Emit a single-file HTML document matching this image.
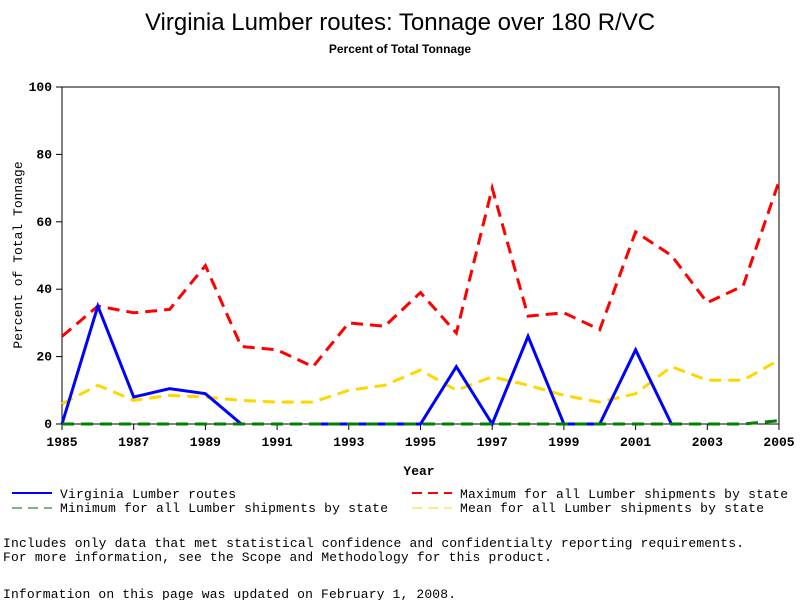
<!DOCTYPE html>
<html><head><meta charset="utf-8"><style>
body{margin:0;background:#fff;width:800px;height:600px;overflow:hidden;font-family:"Liberation Mono",monospace}
svg text{font-family:"Liberation Mono",monospace}
</style></head><body>
<svg id="c" width="800" height="600">
<text x="400" y="30" text-anchor="middle" font-size="24" style="font-family:'Liberation Sans',sans-serif">Virginia Lumber routes: Tonnage over 180 R/VC</text>
<text x="400" y="53" text-anchor="middle" font-size="12" font-weight="bold" style="font-family:'Liberation Sans',sans-serif">Percent of Total Tonnage</text>
<rect x="62" y="87" width="717" height="337" fill="none" stroke="#000"/>
<g id="ticks"></g>
<g id="series"></g>
<text x="419" y="475" text-anchor="middle" font-size="13" font-weight="bold">Year</text>
<text transform="translate(22,255) rotate(-90)" text-anchor="middle" font-size="13">Percent of Total Tonnage</text>
<g font-size="13">
<line x1="12" y1="493" x2="52" y2="493" stroke="#0000ff" stroke-width="2"/><text x="60" y="498" textLength="176">Virginia Lumber routes</text>
<line x1="12" y1="508" x2="52" y2="508" stroke="#006400" stroke-width="1" stroke-dasharray="10,6"/><text x="60" y="512" textLength="328">Minimum for all Lumber shipments by state</text>
<line x1="412" y1="493" x2="452" y2="493" stroke="#ff0000" stroke-width="2" stroke-dasharray="10,6"/><text x="460" y="498" textLength="328">Maximum for all Lumber shipments by state</text>
<line x1="412" y1="508" x2="452" y2="508" stroke="#ffd700" stroke-width="1" stroke-dasharray="10,6"/><text x="460" y="512" textLength="304">Mean for all Lumber shipments by state</text>
</g>
<text x="3" y="547" font-size="13" textLength="741">Includes only data that met statistical confidence and confidentialty reporting requirements.</text>
<text x="3" y="561" font-size="13" textLength="549">For more information, see the Scope and Methodology for this product.</text>
<text x="3" y="598" font-size="13" textLength="453">Information on this page was updated on February 1, 2008.</text>
</svg>
<script>
const years=[1985,1986,1987,1988,1989,1990,1991,1992,1993,1994,1995,1996,1997,1998,1999,2000,2001,2002,2003,2004,2005];
const virginia=[0,35,8,10.5,9,0,null,0,0,0,0,17,0,26,0,0,22,0,null,null,null];
const maxVals=[26,35,33,34,47,23,22,17,30,29,39,27,70,32,33,28,57,50,36,41,72];
const meanVals=[6,11.5,7,8.5,8,7,6.5,6.5,10,11.5,16,10,14,11.5,8.5,6.5,9,17,13,13,19];
const minVals=[0,0,0,0,0,0,0,0,0,0,0,0,0,0,0,0,0,0,0,0,1];
const xTicks=[1985,1987,1989,1991,1993,1995,1997,1999,2001,2003,2005];
const yTicks=[0,20,40,60,80,100];
const NS="http://www.w3.org/2000/svg";
const X=v=>62+(v-1985)*717/20, Y=v=>424-v*3.37;
const tg=document.getElementById('ticks');
function mk(t,a,p){const e=document.createElementNS(NS,t);for(const k in a)e.setAttribute(k,a[k]);p.appendChild(e);return e;}
xTicks.forEach(t=>{mk('line',{x1:X(t),x2:X(t),y1:424,y2:430,stroke:'#000'},tg);
const e=mk('text',{x:X(t),y:446,'text-anchor':'middle','font-size':13,'font-weight':'bold'},tg);e.textContent=t;

});
yTicks.forEach(t=>{mk('line',{x1:56,x2:62,y1:Y(t),y2:Y(t),stroke:'#000'},tg);
const e=mk('text',{x:52,y:Y(t)+4,'text-anchor':'end','font-size':13,'font-weight':'bold'},tg);e.textContent=t;

});
const sg=document.getElementById('series');
function draw(vals,color,w,dash,name){let d='',pen=false;
vals.forEach((v,i)=>{if(v===null){pen=false;return;}d+=(pen?'L':'M')+X(years[i])+','+Y(v);pen=true;});
const p=mk('path',{d:d,fill:'none',stroke:color,'stroke-width':w},sg);if(dash)p.setAttribute('stroke-dasharray',dash);

}
draw(meanVals,'#ffd700',3,'12,7','series-mean');
draw(maxVals,'#ff0000',3,'12,7','series-maximum');
draw(virginia,'#0000ff',3,null,'series-virginia');
draw(minVals,'#008000',3,'12,7','series-minimum');
</script>
</body></html>
